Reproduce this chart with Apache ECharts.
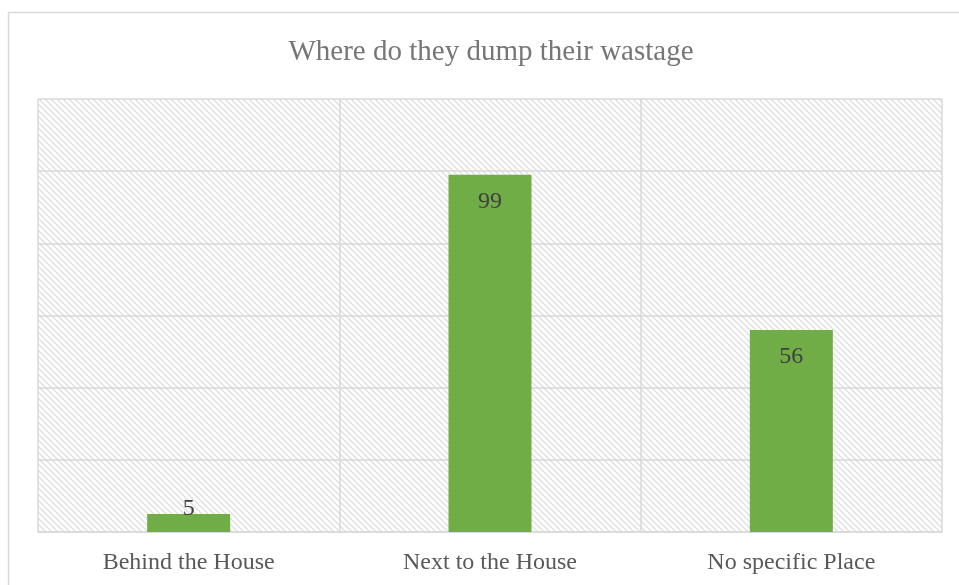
<!DOCTYPE html>
<html>
<head>
<meta charset="utf-8">
<style>
  html, body { margin: 0; padding: 0; background: #ffffff; }
  #chart { width: 959px; height: 585px; }
</style>
<script src="https://cdn.jsdelivr.net/npm/echarts@6/dist/echarts.min.js"></script>
</head>
<body>
<div id="chart"></div>
<script>
// Survey answers: where households dump their wastage
const categories = ['Behind the House', 'Next to the House', 'No specific Place'];
const counts = [5, 99, 56];
const titleText = 'Where do they dump their wastage';

// Light diagonal hatch used as the plot-area fill
function hatchPattern() {
  const c = document.createElement('canvas');
  const n = 6;
  c.width = n; c.height = n;
  const ctx = c.getContext('2d');
  ctx.fillStyle = '#ffffff';
  ctx.fillRect(0, 0, n, n);
  ctx.strokeStyle = '#e0e0e0';
  ctx.lineWidth = 1.5;
  ctx.beginPath();
  ctx.moveTo(-1, -1); ctx.lineTo(n + 1, n + 1);
  ctx.moveTo(-1, n - 1); ctx.lineTo(1, n + 1);
  ctx.moveTo(n - 1, -1); ctx.lineTo(n + 1, 1);
  ctx.stroke();
  return c;
}

const serif = '"Liberation Serif", "Times New Roman", serif';
const chart = echarts.init(document.getElementById('chart'), null, { renderer: 'canvas' });

chart.setOption({
  animation: false,
  backgroundColor: '#ffffff',
  title: {
    text: titleText,
    left: 486,
    textAlign: 'center',
    top: 33,
    textStyle: { fontFamily: serif, fontSize: 29, fontWeight: 'normal', color: '#767676' }
  },
  graphic: [{
    type: 'rect',
    shape: { x: 8.5, y: 12.5, width: 1200, height: 1200 },
    style: { fill: 'none', stroke: '#d9d9d9', lineWidth: 1.5 },
    silent: true,
    z: -1
  }],
  grid: {
    left: 38, right: 17, top: 99, bottom: 53,
    show: true,
    backgroundColor: { image: hatchPattern(), repeat: 'repeat' },
    borderWidth: 0
  },
  xAxis: {
    type: 'category',
    data: categories,
    axisTick: { show: false },
    axisLine: { show: true, lineStyle: { color: '#d9d9d9', width: 1.5 } },
    axisLabel: { fontFamily: serif, fontSize: 24, color: '#595959', margin: 19 },
    splitLine: { show: true, lineStyle: { color: '#d9d9d9', width: 1.5 } }
  },
  yAxis: {
    type: 'value',
    min: 0, max: 120, interval: 20,
    axisLabel: { show: false },
    axisLine: { show: false },
    axisTick: { show: false },
    splitLine: { show: true, lineStyle: { color: '#d9d9d9', width: 1.5 } }
  },
  series: [{
    type: 'bar',
    data: counts.map(function (v, i) {
      return i === 0
        ? { value: v, label: { position: 'top', distance: -7 } }
        : { value: v };
    }),
    barWidth: 83,
    itemStyle: { color: '#70AD47' },
    label: {
      show: true,
      position: 'insideTop',
      distance: 15,
      fontFamily: serif,
      fontSize: 24,
      color: '#404040'
    }
  }]
});
</script>
</body>
</html>
